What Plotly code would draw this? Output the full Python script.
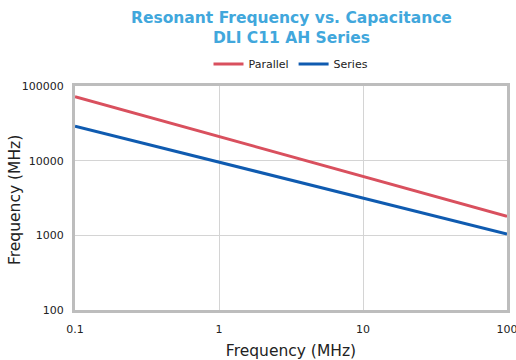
import plotly.graph_objects as go

capacitance = [0.1, 1, 10, 100]
parallel = [72000, 21000, 6100, 1800]
series = [29000, 9600, 3150, 1040]

x_tickvals = [0.1, 1, 10, 100]
x_ticktext = ["0.1", "1", "10", "100"]
y_tickvals = [100, 1000, 10000, 100000]
y_ticktext = ["100", "1000", "10000", "100000"]

fig = go.Figure()
fig.add_trace(go.Scatter(x=capacitance, y=parallel, mode="lines", name="Parallel",
                         line=dict(color="#d9505e", width=3)))
fig.add_trace(go.Scatter(x=capacitance, y=series, mode="lines", name="Series",
                         line=dict(color="#0f5bb0", width=3)))

font_family = "DejaVu Sans"
T, B, L, R = 86, 50, 75, 9
ph = 360 - T - B
pw = 516 - L - R


def py(px):
    return (360 - B - px) / ph


def pxx(px):
    return (px - L) / pw


fig.update_layout(
    width=516, height=360,
    margin=dict(l=L, r=R, t=T, b=B, autoexpand=False),
    paper_bgcolor="white", plot_bgcolor="white",
    font=dict(family=font_family, color="#222222", size=11),
    showlegend=True,
    legend=dict(orientation="h", x=0.5, xref="paper", xanchor="center",
                y=py(64), yanchor="middle", font=dict(size=11, family=font_family),
                itemwidth=30, traceorder="normal"),
    xaxis=dict(type="log", range=[-1, 2], tickvals=x_tickvals, ticktext=x_ticktext,
               showgrid=True, gridcolor="#d4d4d4", gridwidth=1,
               showline=True, linecolor="#bdbdbd", linewidth=3, mirror=True,
               ticks="", zeroline=False, tickfont=dict(size=11), automargin=False,
               ticklabelstandoff=7, ticklabeloverflow="allow",
               title=dict(text="Frequency (MHz)", font=dict(size=15.5), standoff=14)),
    yaxis=dict(type="log", range=[2, 5], tickvals=y_tickvals, ticktext=y_ticktext,
               showgrid=True, gridcolor="#d4d4d4", gridwidth=1,
               showline=True, linecolor="#bdbdbd", linewidth=3, mirror=True,
               ticks="", zeroline=False, tickfont=dict(size=11), automargin=False,
               ticklabelstandoff=6, ticklabeloverflow="allow"),
    annotations=[
        dict(text="<b>Resonant Frequency vs. Capacitance<br>DLI C11 AH Series</b>",
             x=0.5, xref="paper", xanchor="center", y=py(27.5), yref="paper",
             yanchor="middle", showarrow=False, align="center",
             font=dict(family=font_family, size=15.5, color="#41a7dc")),
        dict(text="Frequency (MHz)", textangle=-90,
             x=pxx(15), xref="paper", xanchor="center", y=py(200), yref="paper",
             yanchor="middle", showarrow=False,
             font=dict(family=font_family, size=15.5, color="#222222")),
    ],
)

fig.write_html("out.html", config={"displayModeBar": False},
               post_script="document.body.style.margin='0';")
